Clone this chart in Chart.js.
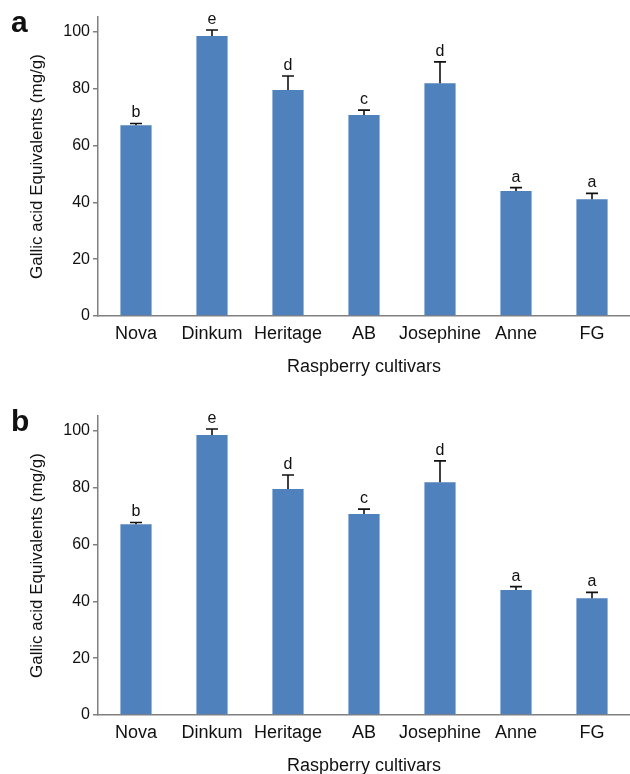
<!DOCTYPE html>
<html>
<head>
<meta charset="utf-8">
<script src="https://cdn.jsdelivr.net/npm/chart.js@4"></script>
<style>
  html, body { margin: 0; padding: 0; background: #fff; }
  body { width: 630px; height: 774px; overflow: hidden; position: relative; }
  .panel { position: absolute; left: 0; width: 630px; height: 399px; }
</style>
</head>
<body>
<div class="panel" style="top:0"><canvas id="chartA" width="630" height="399"></canvas></div>
<div class="panel" style="top:399px"><canvas id="chartB" width="630" height="399"></canvas></div>
<script>
// Raspberry cultivars - total phenolics
var cultivars = ['Nova', 'Dinkum', 'Heritage', 'AB', 'Josephine', 'Anne', 'FG'];

// panel a
var gaeA = [67.2, 98.6, 79.6, 70.8, 82.0, 44.0, 41.1];
var errA = [0.6, 2.1, 4.9, 1.7, 7.5, 1.2, 2.1];
var lettersA = ['b', 'e', 'd', 'c', 'd', 'a', 'a'];

// panel b
var gaeB = [67.2, 98.6, 79.6, 70.8, 82.0, 44.0, 41.1];
var errB = [0.6, 2.1, 4.9, 1.7, 7.5, 1.2, 2.1];
var lettersB = ['b', 'e', 'd', 'c', 'd', 'a', 'a'];

var yTicks = [0, 20, 40, 60, 80, 100];

var fontFam = '"Liberation Sans", Arial, sans-serif';
var axisGrey = '#808080';
var textCol = '#111';

// error bars + significance letters + panel letter
var extrasPlugin = {
  id: 'extras',
  afterDatasetsDraw: function(chart, args, opts) {
    var ctx = chart.ctx;
    var y = chart.scales.y;
    var meta = chart.getDatasetMeta(0);
    var vals = chart.data.datasets[0].data;
    ctx.save();
    ctx.strokeStyle = textCol;
    ctx.lineWidth = 1.6;
    ctx.fillStyle = textCol;
    ctx.font = '16px ' + fontFam;
    ctx.textAlign = 'center';
    ctx.textBaseline = 'alphabetic';
    meta.data.forEach(function(bar, i) {
      var yb = y.getPixelForValue(vals[i]);
      var yt = y.getPixelForValue(vals[i] + opts.err[i]);
      ctx.beginPath();
      ctx.moveTo(bar.x, yb);
      ctx.lineTo(bar.x, yt);
      ctx.moveTo(bar.x - 6, yt);
      ctx.lineTo(bar.x + 6, yt);
      ctx.stroke();
      ctx.fillText(opts.letters[i], bar.x, yt - 6);
    });
    ctx.font = 'bold 30px ' + fontFam;
    ctx.textAlign = 'left';
    ctx.fillText(opts.panel, 11, 32);
    ctx.restore();
  }
};

function makeChart(id, values, errs, letters, panel) {
  var ctx = document.getElementById(id).getContext('2d');
  return new Chart(ctx, {
    type: 'bar',
    data: {
      labels: cultivars,
      datasets: [{
        label: 'GAE',
        data: values,
        backgroundColor: '#4F81BD',
        borderWidth: 0,
        barPercentage: 0.41,
        categoryPercentage: 1.0
      }]
    },
    plugins: [extrasPlugin],
    options: {
      responsive: false,
      animation: false,
      layout: { padding: { top: 17, right: 0, left: 0, bottom: 0 } },
      plugins: {
        legend: { display: false },
        tooltip: { enabled: false },
        extras: { err: errs, letters: letters, panel: panel }
      },
      scales: {
        x: {
          offset: true,
          grid: { display: false, drawTicks: false },
          border: { display: true, color: axisGrey, width: 1.5 },
          ticks: { color: textCol, font: { family: fontFam, size: 18 }, padding: 7, maxRotation: 0, autoSkip: false },
          title: {
            display: true, text: 'Raspberry cultivars', color: textCol,
            font: { family: fontFam, size: 18 }, padding: { top: 0, bottom: 21 }
          },
          afterFit: function(s) { s.height = 83; }
        },
        y: {
          min: 0,
          max: 105.3,
          afterBuildTicks: function(s) {
            s.ticks = yTicks.map(function(v) { return { value: v }; });
          },
          grid: { drawOnChartArea: false, drawTicks: true, tickLength: 5, color: axisGrey, lineWidth: 1.5 },
          border: { display: true, color: axisGrey, width: 1.5 },
          ticks: { color: textCol, font: { family: fontFam, size: 16 }, padding: 3 },
          title: {
            display: true, text: 'Gallic acid Equivalents (mg/g)', color: textCol,
            font: { family: fontFam, size: 17 }, padding: { top: 27, bottom: 0 }
          },
          afterFit: function(s) { s.width = 98; }
        }
      }
    }
  });
}

var chartA = makeChart('chartA', gaeA, errA, lettersA, 'a');
var chartB = makeChart('chartB', gaeB, errB, lettersB, 'b');
</script>
</body>
</html>
